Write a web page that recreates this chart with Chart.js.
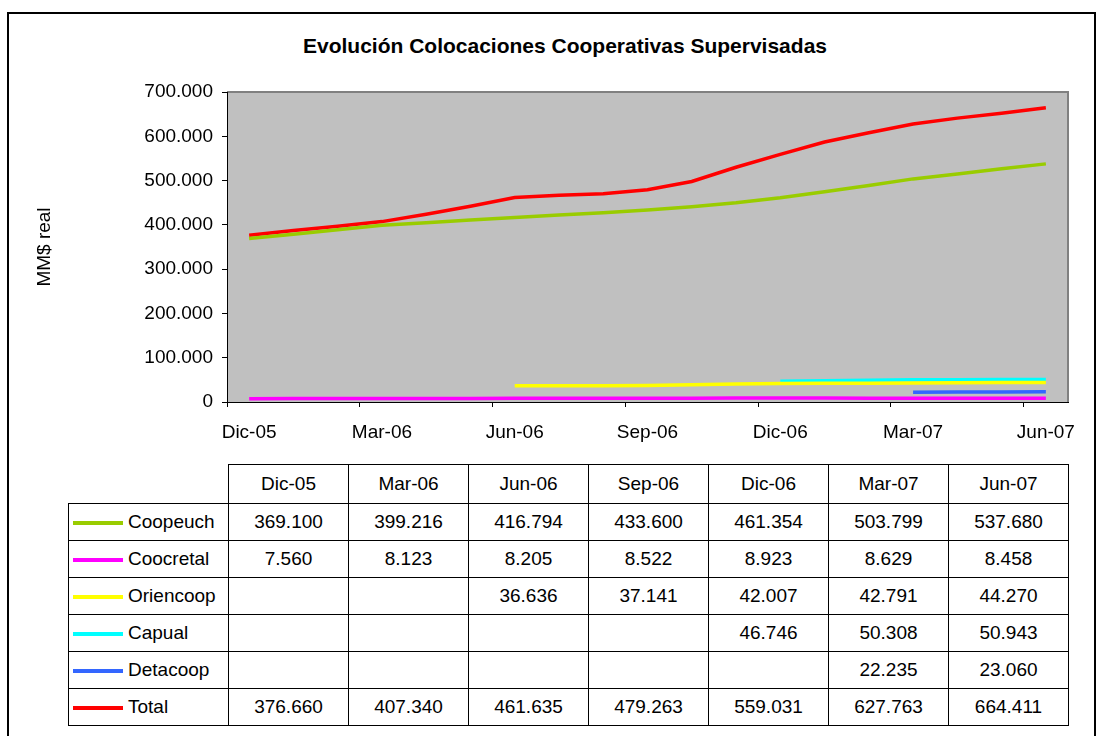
<!DOCTYPE html>
<html>
<head>
<meta charset="utf-8">
<script src="https://cdn.jsdelivr.net/npm/chart.js@4.4.0/dist/chart.umd.min.js"></script>
<style>
  body { margin: 0; background: #fff; font-family: "Liberation Sans", Arial, sans-serif; }
  #frame { position: absolute; left: 7px; top: 12px; width: 1089px; height: 740px; border: 2px solid #000; box-sizing: border-box; }
  #title { position: absolute; left: 0; width: 1130px; top: 34px; text-align: center; font-weight: bold; font-size: 21px; }
  #wrap { position: absolute; left: 0; top: 0; }
  #tbl { position: absolute; left: 68px; top: 464px; border-collapse: collapse; table-layout: fixed; font-size: 19px; color: #000; }
  #tbl td { border: 1px solid #000; padding: 0; text-align: center; height: 36px; }
  #tbl tr.head td { height: 38px; }
  #tbl td.corner { border: none; }
  #tbl td.name { text-align: left; white-space: nowrap; }
  .key { display: inline-block; width: 50px; height: 4px; margin: 0 5px 0 4px; vertical-align: middle; }
</style>
</head>
<body>
<div id="frame"></div>
<div id="title">Evolución Colocaciones Cooperativas Supervisadas</div>
<div id="wrap"><canvas id="chart" width="1103" height="460"></canvas></div>
<table id="tbl"></table>
<script>
// meses (Dic-05 .. Jun-07), valores en MM$
const months = ['Dic-05','Ene-06','Feb-06','Mar-06','Abr-06','May-06','Jun-06','Jul-06','Ago-06','Sep-06',
  'Oct-06','Nov-06','Dic-06','Ene-07','Feb-07','Mar-07','Abr-07','May-07','Jun-07'];
const coopeuch = [369100, 379000, 389000, 399216, 405000, 411000, 416794, 422000, 427500, 433600,
  441000, 450000, 461354, 475000, 489000, 503799, 515000, 526500, 537680];
const coocretal = [7560, 7750, 7950, 8123, 8150, 8180, 8205, 8300, 8400, 8522,
  8650, 8800, 8923, 8820, 8720, 8629, 8570, 8510, 8458];
const oriencoop = [null, null, null, null, null, null, 36636, 36500, 36450, 37141,
  38800, 40500, 42007, 42250, 42500, 42791, 43300, 43800, 44270];
const capual = [null, null, null, null, null, null, null, null, null, null,
  null, null, 46746, 48000, 49200, 50308, 50500, 50700, 50943];
const detacoop = [null, null, null, null, null, null, null, null, null, null,
  null, null, null, null, null, 22235, 22500, 22800, 23060];
const total = [376660, 387000, 397000, 407340, 424000, 442000, 461635, 467000, 470000, 479263,
  498000, 530000, 559031, 587000, 608000, 627763, 641000, 652000, 664411];
const yTicks = [0, 100000, 200000, 300000, 400000, 500000, 600000, 700000];

const series = [
  {name: 'Coopeuch', data: coopeuch, color: '#99cc00'},
  {name: 'Coocretal', data: coocretal, color: '#ff00ff'},
  {name: 'Oriencoop', data: oriencoop, color: '#ffff00'},
  {name: 'Capual', data: capual, color: '#00ffff'},
  {name: 'Detacoop', data: detacoop, color: '#3366ff'},
  {name: 'Total', data: total, color: '#ff0000'}
];

function fmt(v) {
  return Math.round(v).toString().replace(/\B(?=(\d{3})+(?!\d))/g, '.');
}

const plotBg = {
  id: 'plotBg',
  beforeDraw(chart) {
    const {ctx, chartArea: a} = chart;
    ctx.save();
    ctx.fillStyle = '#c0c0c0';
    ctx.fillRect(a.left, a.top, a.width, a.height);
    ctx.strokeStyle = '#808080';
    ctx.lineWidth = 2;
    ctx.beginPath();
    ctx.moveTo(a.left, a.top);
    ctx.lineTo(a.right, a.top);
    ctx.lineTo(a.right, a.bottom);
    ctx.stroke();
    ctx.restore();
  }
};

const font19 = {family: '"Liberation Sans", Arial, sans-serif', size: 19};

new Chart(document.getElementById('chart').getContext('2d'), {
  type: 'line',
  data: {
    labels: months,
    datasets: series.map(s => ({
      label: s.name,
      data: s.data,
      borderColor: s.color,
      backgroundColor: s.color,
      borderWidth: 3.5,
      pointRadius: 0,
      tension: 0,
      fill: false
    }))
  },
  options: {
    responsive: false,
    animation: false,
    layout: {padding: {top: 92, right: 35, left: 0, bottom: 0}},
    plugins: {legend: {display: false}, tooltip: {enabled: false}},
    scales: {
      x: {
        type: 'category',
        offset: true,
        afterFit: s => { s.height = 58; },
        grid: {
          offset: true,
          drawOnChartArea: false,
          tickLength: 5,
          tickColor: c => (c.index % 3 === 0 && c.index < months.length) ? '#000' : 'rgba(0,0,0,0)'
        },
        border: {color: '#000', width: 1},
        ticks: {
          autoSkip: false,
          maxRotation: 0,
          padding: 14,
          color: '#000',
          font: font19,
          callback: (v, i) => i % 3 === 0 ? months[i] : ''
        }
      },
      y: {
        min: 0,
        max: 700000,
        afterFit: s => { s.width = 227; },
        afterBuildTicks: s => { s.ticks = yTicks.map(v => ({value: v})); },
        grid: {drawOnChartArea: false, tickLength: 5, tickColor: '#000'},
        border: {color: '#000', width: 1},
        ticks: {padding: 9, color: '#000', font: font19, callback: v => fmt(v)},
        title: {display: true, text: 'MM$ real', color: '#000', font: font19, padding: {top: 33, bottom: 0}}
      }
    }
  },
  plugins: [plotBg]
});

// tabla de datos trimestral bajo el grafico
const quarterIdx = months.map((m, i) => i).filter(i => i % 3 === 0);
const tbl = document.getElementById('tbl');
let html = '<colgroup><col style="width:160px">' + quarterIdx.map(() => '<col style="width:120px">').join('') + '</colgroup>';
html += '<tr class="head"><td class="corner"></td>' + quarterIdx.map(i => '<td>' + months[i] + '</td>').join('') + '</tr>';
series.forEach(s => {
  html += '<tr><td class="name"><span class="key" style="background:' + s.color + '"></span>' + s.name + '</td>' +
    quarterIdx.map(i => '<td>' + (s.data[i] == null ? '' : fmt(s.data[i])) + '</td>').join('') + '</tr>';
});
tbl.innerHTML = html;
</script>
</body>
</html>
